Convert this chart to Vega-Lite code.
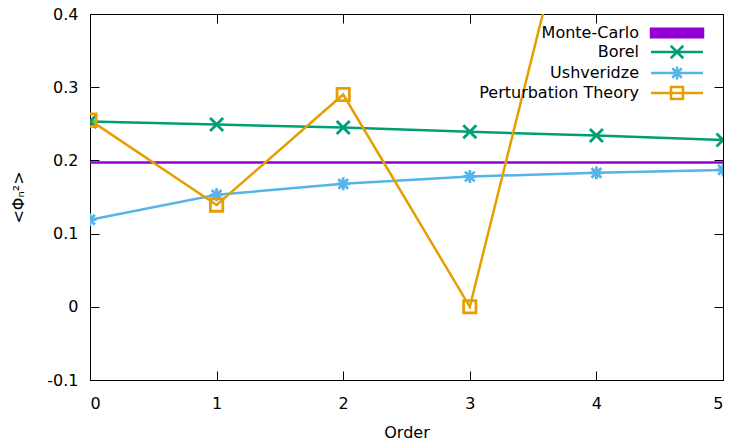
{
  "$schema": "https://vega.github.io/schema/vega-lite/v6.json",
  "width": 633,
  "height": 366,
  "autosize": {"type": "none"},
  "padding": {"left": 90, "top": 14, "right": 10, "bottom": 61},
  "background": "white",
  "config": {
    "font": "DejaVu Sans",
    "view": {"stroke": "black", "strokeWidth": 1},
    "axis": {
      "grid": false,
      "domainColor": "black",
      "domainWidth": 1,
      "tickColor": "black",
      "tickWidth": 1,
      "tickSize": -9,
      "labelColor": "black",
      "titleColor": "black",
      "labelFont": "DejaVu Sans",
      "titleFont": "DejaVu Sans",
      "labelFontSize": 16,
      "titleFontSize": 16,
      "titleFontWeight": "normal"
    },
    "legend": {
      "title": null,
      "orient": "none",
      "legendX": 579,
      "legendY": 11,
      "padding": 0,
      "symbolSize": 100,
      "symbolStrokeWidth": 2.5,
      "labelAlign": "right",
      "labelBaseline": "middle",
      "labelOffset": -46,
      "labelFont": "DejaVu Sans",
      "labelFontSize": 16,
      "labelColor": "black",
      "labelLimit": 400,
      "rowPadding": -3
    }
  },
  "data": {
    "values": [
      {"series": "Monte-Carlo", "order": 0, "value": 0.197},
      {"series": "Monte-Carlo", "order": 5, "value": 0.197},
      {"series": "Borel", "order": 0, "value": 0.253},
      {"series": "Borel", "order": 1, "value": 0.249},
      {"series": "Borel", "order": 2, "value": 0.245},
      {"series": "Borel", "order": 3, "value": 0.239},
      {"series": "Borel", "order": 4, "value": 0.234},
      {"series": "Borel", "order": 5, "value": 0.228},
      {"series": "Ushveridze", "order": 0, "value": 0.119},
      {"series": "Ushveridze", "order": 1, "value": 0.153},
      {"series": "Ushveridze", "order": 2, "value": 0.168},
      {"series": "Ushveridze", "order": 3, "value": 0.178},
      {"series": "Ushveridze", "order": 4, "value": 0.183},
      {"series": "Ushveridze", "order": 5, "value": 0.187},
      {"series": "Perturbation Theory", "order": 0, "value": 0.255},
      {"series": "Perturbation Theory", "order": 1, "value": 0.139},
      {"series": "Perturbation Theory", "order": 2, "value": 0.290},
      {"series": "Perturbation Theory", "order": 3, "value": 0.0},
      {"series": "Perturbation Theory", "order": 4, "value": 0.694}
    ]
  },
  "layer": [
    {
      "mark": {"type": "line", "strokeWidth": 2.5, "clip": true},
      "encoding": {
        "x": {
          "field": "order", "type": "quantitative",
          "scale": {"domain": [0, 5], "nice": false},
          "axis": {"orient": "bottom", "values": [0, 1, 2, 3, 4, 5], "format": "d", "title": "Order", "labelPadding": 24, "titlePadding": 13}
        },
        "y": {
          "field": "value", "type": "quantitative",
          "scale": {"domain": [-0.1, 0.4], "nice": false, "zero": false},
          "axis": {"orient": "left", "values": [-0.1, 0, 0.1, 0.2, 0.3, 0.4], "labelExpr": "replace(format(datum.value, '.1~f'), '\u2212', '-')", "title": "<Φₙ²>", "labelPadding": 21, "titlePadding": 20}
        },
        "color": {
          "field": "series", "type": "nominal",
          "scale": {"domain": ["Monte-Carlo", "Borel", "Ushveridze", "Perturbation Theory"], "range": ["#9400d3", "#009e73", "#56b4e9", "#e69f00"]},
          "legend": {
            "encode": {
              "symbols": {
                "update": {
                  "shape": {"signal": "datum.value === 'Monte-Carlo' ? 'M-5.2,-0.85L5.2,-0.85L5.2,0.85L-5.2,0.85Z' : datum.value === 'Borel' ? 'M-5.2,0L5.2,0M-1.25,-1.25L1.25,1.25M-1.25,1.25L1.25,-1.25' : datum.value === 'Ushveridze' ? 'M-5.2,0L5.2,0M-1.3,0L1.3,0M0,-1.3L0,1.3M-0.95,-0.95L0.95,0.95M-0.95,0.95L0.95,-0.95' : 'M-5.2,0L5.2,0M-1.2,-1.2L1.2,-1.2L1.2,1.2L-1.2,1.2Z'"},
                  "fill": {"signal": "datum.value === 'Monte-Carlo' ? '#9400d3' : 'transparent'"},
                  "stroke": {"scale": "color", "field": "value"},
                  "strokeWidth": {"value": 2.5},
                  "size": {"value": 100},
                  "opacity": {"value": 1}
                }
              }
            }
          }
        }
      }
    },
    {
      "transform": [{"filter": "datum.series !== 'Monte-Carlo'"}],
      "mark": {"type": "point", "filled": false, "strokeWidth": 2.8, "size": 169, "clip": true, "opacity": 1},
      "encoding": {
        "x": {
          "field": "order", "type": "quantitative",
          "axis": {"orient": "top", "values": [0, 1, 2, 3, 4, 5], "labels": false, "title": null}
        },
        "y": {
          "field": "value", "type": "quantitative",
          "axis": {"orient": "right", "values": [-0.1, 0, 0.1, 0.2, 0.3, 0.4], "labels": false, "title": null}
        },
        "color": {"field": "series", "type": "nominal", "legend": null},
        "shape": {
          "field": "series", "type": "nominal",
          "scale": {"domain": ["Borel", "Ushveridze", "Perturbation Theory"], "range": ["M-1,-1L1,1M-1,1L1,-1", "M-1,0L1,0M0,-1L0,1M-0.75,-0.75L0.75,0.75M-0.75,0.75L0.75,-0.75", "M-0.95,-0.95L0.95,-0.95L0.95,0.95L-0.95,0.95Z"]},
          "legend": null
        }
      }
    }
  ],
  "resolve": {"axis": {"x": "independent", "y": "independent"}}
}
